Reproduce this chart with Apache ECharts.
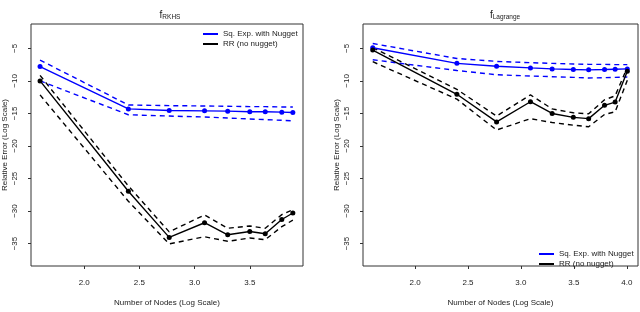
<!DOCTYPE html>
<html>
<head>
<meta charset="utf-8">
<script src="https://cdn.jsdelivr.net/npm/echarts@6/dist/echarts.min.js"></script>
<style>html,body{margin:0;padding:0;background:#fff}#c{width:640px;height:312px}</style>
</head>
<body>
<div id="c"></div>
<script>
// ---- data (log10 nodes, log relative error) ----
var xLeft = [1.60, 2.40, 2.77, 3.09, 3.30, 3.50, 3.64, 3.79, 3.89];
var sqMeanL = [-7.8, -14.3, -14.55, -14.6, -14.65, -14.75, -14.75, -14.8, -14.85];
var sqUpL   = [-6.8, -13.7, -13.8, -13.85, -13.9, -13.95, -13.95, -14.0, -14.0];
var sqLoL   = [-10.0, -15.2, -15.4, -15.55, -15.7, -15.85, -15.95, -16.05, -16.15];
var rrMeanL = [-10.0, -26.95, -34.05, -31.8, -33.65, -33.15, -33.5, -31.3, -30.3];
var rrUpL   = [-9.15, -26.15, -33.2, -30.6, -32.65, -32.3, -32.65, -30.55, -29.8];
var rrLoL   = [-12.15, -28.5, -35.05, -33.95, -34.65, -34.15, -34.4, -32.4, -31.4];

var xRight = [1.60, 2.395, 2.77, 3.09, 3.295, 3.495, 3.64, 3.79, 3.89, 4.005];
var sqMeanR = [-4.9, -7.3, -7.75, -8.0, -8.15, -8.25, -8.3, -8.25, -8.2, -8.15];
var sqUpR   = [-4.25, -6.55, -7.0, -7.2, -7.3, -7.4, -7.45, -7.45, -7.5, -7.5];
var sqLoR   = [-6.75, -8.4, -9.05, -9.25, -9.35, -9.45, -9.55, -9.5, -9.45, -9.4];
var rrMeanR = [-5.25, -12.05, -16.3, -13.2, -15.0, -15.6, -15.8, -13.75, -13.25, -8.5];
var rrUpR   = [-4.9, -11.3, -15.4, -12.15, -14.3, -14.9, -15.05, -12.9, -12.3, -7.9];
var rrLoR   = [-7.05, -12.8, -17.55, -15.8, -16.4, -16.8, -17.05, -15.15, -14.75, -9.9];

var xTicksL = [2.0, 2.5, 3.0, 3.5];
var xTicksR = [2.0, 2.5, 3.0, 3.5, 4.0];
var yTicks = [-35, -30, -25, -20, -15, -10, -5];

var titleSubL = 'RKHS', titleSubR = 'Lagrange';
var nameSq = 'Sq. Exp. with Nugget', nameRR = 'RR (no nugget)';
var xName = 'Number of Nodes (Log Scale)', yName = 'Relative Error (Log Scale)';

// ---- build ----
var FONT = '"Liberation Sans", Arial, Helvetica, sans-serif';
var BLUE = '#0000ff', BLACK = '#000000', AX = '#333333';
function pairs(xs, ys){ return xs.map(function(x,i){ return [x, ys[i]]; }); }
function meanSeries(name, xs, ys, color, idx){
  return {type:'line', name:name, xAxisIndex:idx, yAxisIndex:idx, data:pairs(xs,ys),
    symbol:'circle', symbolSize:5, showSymbol:true, itemStyle:{color:color},
    lineStyle:{color:color, width:1.4}, animation:false, silent:true, z:3};
}
function bandSeries(name, xs, ys, color, idx){
  return {type:'line', name:name, xAxisIndex:idx, yAxisIndex:idx, data:pairs(xs,ys),
    symbol:'none', itemStyle:{color:color},
    lineStyle:{color:color, width:1.4, type:[5,4]}, animation:false, silent:true, z:2};
}
function xAx(idx, min, max, ticks){
  return {type:'value', gridIndex:idx, min:min, max:max,
    name:xName, nameLocation:'middle', nameGap:33,
    nameTextStyle:{fontFamily:FONT, fontSize:8, color:'#222'},
    axisLine:{show:false}, splitLine:{show:false},
    axisTick:{show:true, length:3, customValues:ticks, lineStyle:{color:AX}},
    axisLabel:{customValues:ticks, fontFamily:FONT, fontSize:8, color:'#222', margin:13,
      formatter:function(v){ return v.toFixed(1); }}};
}
function yAx(idx){
  return {type:'value', gridIndex:idx, min:-38.45, max:-1.25,
    name:yName, nameLocation:'middle', nameGap:22, nameRotate:90,
    nameTextStyle:{fontFamily:FONT, fontSize:8, color:'#222'},
    axisLine:{show:false}, splitLine:{show:false},
    axisTick:{show:true, length:3, customValues:yTicks, lineStyle:{color:AX}},
    axisLabel:{customValues:yTicks, rotate:90, fontFamily:FONT, fontSize:8, color:'#222', margin:12,
      formatter:function(v){ return String(v).replace('-', '\u2212'); }}};
}
function legendAt(left, top){
  return {orient:'vertical', left:left, top:top, padding:0, itemWidth:15, itemHeight:2, itemGap:0,
    icon:'rect', selectedMode:false,
    textStyle:{fontFamily:FONT, fontSize:8, color:'#222', lineHeight:10},
    data:[nameSq, nameRR]};
}
var rich = {f:{fontFamily:FONT, fontSize:10, fontWeight:'normal', color:'#222', lineHeight:12},
            s:{fontFamily:FONT, fontSize:6.5, fontWeight:'normal', color:'#222', lineHeight:12, padding:[5,0,0,0]}};
var option = {
  backgroundColor:'#fff',
  title:[
    {text:'{f|f}{s|'+titleSubL+'}', left:165, top:4, textAlign:'center', textStyle:{fontWeight:'normal', rich:rich}},
    {text:'{f|f}{s|'+titleSubR+'}', left:500, top:4, textAlign:'center', textStyle:{fontWeight:'normal', rich:rich}}
  ],
  legend:[legendAt(203, 29), legendAt(539, 249)],
  grid:[
    {left:27, top:24, width:276, height:248, show:true, borderColor:AX, borderWidth:1, backgroundColor:'transparent'},
    {left:363, top:24, width:275, height:248, show:true, borderColor:AX, borderWidth:1, backgroundColor:'transparent'}
  ],
  xAxis:[xAx(0, 1.518, 3.982, xTicksL), xAx(1, 1.508, 4.106, xTicksR)],
  yAxis:[yAx(0), yAx(1)],
  series:[
    bandSeries('sqUpL', xLeft, sqUpL, BLUE, 0),
    bandSeries('sqLoL', xLeft, sqLoL, BLUE, 0),
    meanSeries(nameSq, xLeft, sqMeanL, BLUE, 0),
    bandSeries('rrUpL', xLeft, rrUpL, BLACK, 0),
    bandSeries('rrLoL', xLeft, rrLoL, BLACK, 0),
    meanSeries(nameRR, xLeft, rrMeanL, BLACK, 0),
    bandSeries('sqUpR', xRight, sqUpR, BLUE, 1),
    bandSeries('sqLoR', xRight, sqLoR, BLUE, 1),
    meanSeries(nameSq, xRight, sqMeanR, BLUE, 1),
    bandSeries('rrUpR', xRight, rrUpR, BLACK, 1),
    bandSeries('rrLoR', xRight, rrLoR, BLACK, 1),
    meanSeries(nameRR, xRight, rrMeanR, BLACK, 1)
  ]
};
var chart = echarts.init(document.getElementById('c'), null, {renderer:'canvas'});
chart.setOption(option);
</script>
</body>
</html>
